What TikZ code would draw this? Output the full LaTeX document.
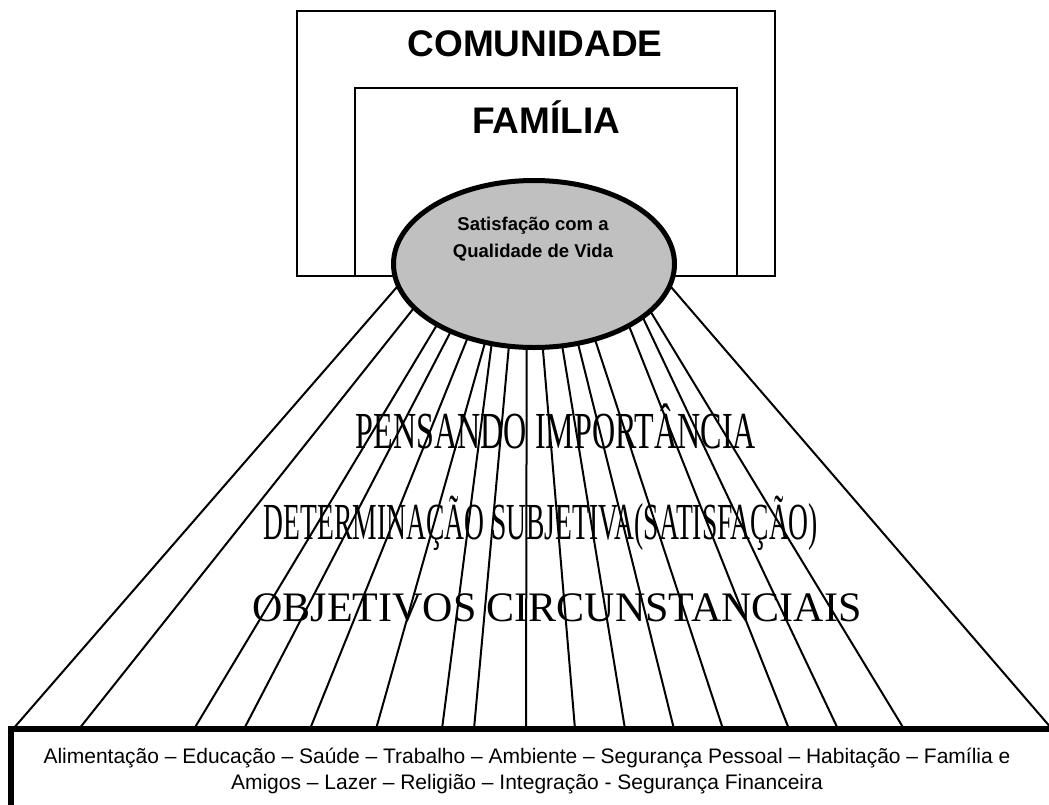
\documentclass[tikz,border=0pt]{standalone}
\usepackage{graphicx}
\usepackage{fontspec}
\setmainfont{Liberation Sans}
\newfontfamily\romanfont{Liberation Serif}
\usetikzlibrary{shapes.geometric}
\definecolor{ovalgray}{RGB}{192,192,192}
\newcommand\squeezed[2]{\scalebox{#1}[1]{#2}}
\tikzset{
	every node/.style = {inner sep=0pt, outer sep=0pt},
	levelbox/.style = {draw, line width=2pt, rectangle},
	leveltitle/.style = {anchor=base, font=\fontsize{37}{40}\selectfont\bfseries},
	oval/.style = {ellipse, draw, line width=5pt, fill=ovalgray, minimum width=281pt, minimum height=167pt},
	ovaltext/.style = {anchor=base, align=center, font=\fontsize{18.5}{27}\selectfont\bfseries},
	fanline/.style = {line width=2pt},
	midtext/.style = {anchor=base, font=\romanfont\fontsize{52}{54}\selectfont},
	areaframe/.style = {line width=6pt, line join=miter},
	areatext/.style = {anchor=base, align=center, font=\fontsize{21}{26}\selectfont}
}
\begin{document}
\begin{tikzpicture}[x=1pt, y=-1pt]
		\useasboundingbox (0,0) rectangle (1049,804);
		% community and family
		\node[levelbox, minimum width=478pt, minimum height=265pt] (comunidade) at (536,143.5) {};
		\node[levelbox, minimum width=382pt, minimum height=188pt] (familia) at (546,182) {};
		\node[leveltitle] (comtitle) at (535,56) {COMUNIDADE};
		\node[leveltitle] (famtitle) at (546,133) {FAMÍLIA};
		% oval
		\node[oval] (sat) at (534,264) {};
		\node[ovaltext] (sattext) at (533,257) {Satisfação com a\\Qualidade de Vida};
		% base of the fan
		\coordinate (b1) at (13,729);
		\coordinate (b2) at (79,729);
		\coordinate (b3) at (194,729);
		\coordinate (b4) at (244,729);
		\coordinate (b5) at (310,729);
		\coordinate (b6) at (376,729);
		\coordinate (b7) at (442,729);
		\coordinate (b8) at (474,729);
		\coordinate (b9) at (526,729);
		\coordinate (b10) at (575,729);
		\coordinate (b11) at (625,729);
		\coordinate (b12) at (674,729);
		\coordinate (b13) at (723,729);
		\coordinate (b14) at (789,729);
		\coordinate (b15) at (838,729);
		\coordinate (b16) at (904,729);
		\coordinate (b17) at (1052,729);
		% fan lines
		\draw[fanline] (sat.189) -- (b1);
		\draw[fanline] (sat.200) -- (b2);
		\draw[fanline] (sat.212) -- (b3);
		\draw[fanline] (sat.219) -- (b4);
		\draw[fanline] (sat.228) -- (b5);
		\draw[fanline] (sat.238) -- (b6);
		\draw[fanline] (sat.242) -- (b7);
		\draw[fanline] (sat.253) -- (b8);
		\draw[fanline] (sat.265) -- (b9);
		\draw[fanline] (sat.276) -- (b10);
		\draw[fanline] (sat.289) -- (b11);
		\draw[fanline] (sat.299) -- (b12);
		\draw[fanline] (sat.309) -- (b13);
		\draw[fanline] (sat.327) -- (b14);
		\draw[fanline] (sat.334) -- (b15);
		\draw[fanline] (sat.338) -- (b16);
		\draw[fanline] (sat.351) -- (b17);
		% middle texts
		\node[midtext] (pensando) at (556,448) {\squeezed{0.617}{PENSANDO IMPORTÂNCIA}};
		\node[midtext] (determinacao) at (541,539) {\squeezed{0.53}{DETERMINAÇÃO SUBJETIVA(SATISFAÇÃO)}};
		\node[midtext, font=\romanfont\fontsize{42}{44}\selectfont] (objetivos) at (557,621) {OBJETIVOS CIRCUNSTANCIAIS};
		% areas of life
		\draw[areaframe] (11,830) -- (11,729) -- (1070,729);
		\node[areatext] (areas) at (527,789) {Alimentação – Educação – Saúde – Trabalho – Ambiente – Segurança Pessoal – Habitação – Família e\\Amigos – Lazer – Religião – Integração - Segurança Financeira};
	\end{tikzpicture}
\end{document}
